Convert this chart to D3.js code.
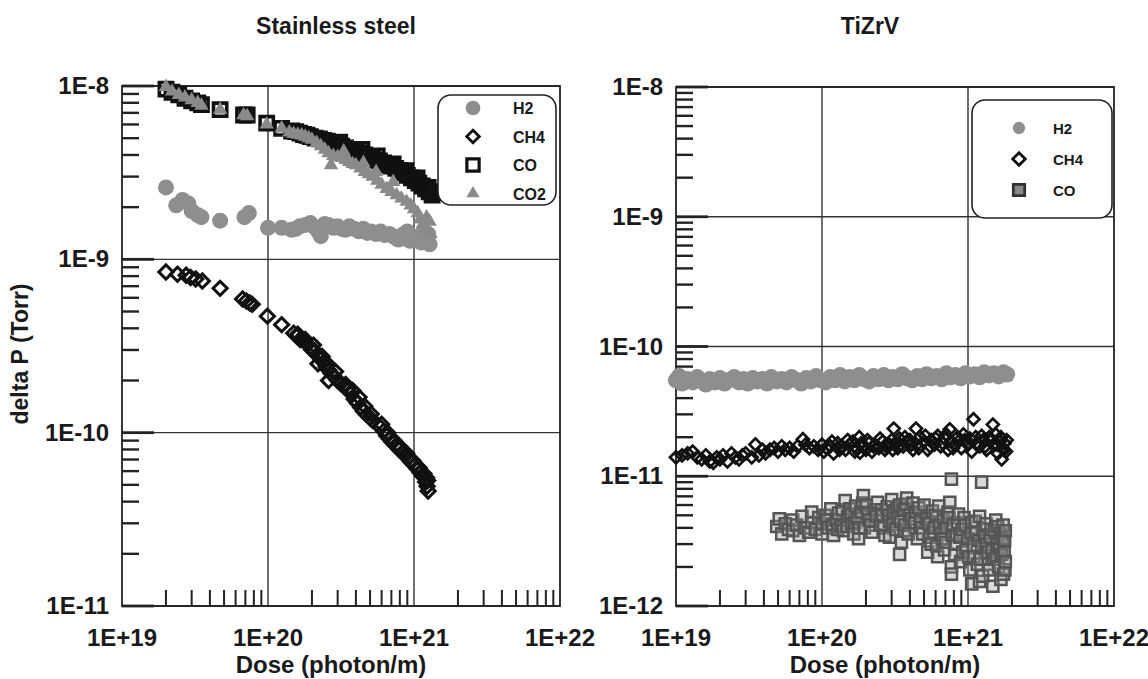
<!DOCTYPE html>
<html>
<head>
<meta charset="utf-8">
<script src="https://cdn.jsdelivr.net/npm/d3@7"></script>
<style>
  body { margin: 0; background: #fff; }
  text { font-family: "Liberation Sans", Arial, sans-serif; font-weight: bold; fill: #1a1a1a; }
</style>
</head>
<body>
<svg id="chart" width="1148" height="679"></svg>
<script>
// ---- data: [dose (photon/m), delta P (Torr)] ----

// Stainless steel
const ssH2 = [
  [2.0e19,2.6e-9],[2.35e19,2.05e-9],[2.6e19,2.2e-9],[2.85e19,2.1e-9],[3.0e19,1.9e-9],[3.3e19,1.8e-9],
  [3.5e19,1.75e-9],[4.7e19,1.67e-9],[6.9e19,1.75e-9],[7.4e19,1.85e-9],[1.0e20,1.52e-9],[1.24e20,1.52e-9],
  [1.45e20,1.48e-9],[1.55e20,1.5e-9],[1.65e20,1.55e-9],[1.8e20,1.58e-9],[1.95e20,1.62e-9],[2.05e20,1.55e-9],
  [2.2e20,1.45e-9],[2.3e20,1.36e-9],[2.45e20,1.6e-9],[2.6e20,1.58e-9],[2.8e20,1.52e-9],[3.0e20,1.55e-9],
  [3.2e20,1.5e-9],[3.4e20,1.48e-9],[3.6e20,1.55e-9],[3.9e20,1.5e-9],[4.2e20,1.45e-9],[4.5e20,1.5e-9],
  [4.8e20,1.42e-9],[5.1e20,1.45e-9],[5.5e20,1.4e-9],[5.9e20,1.45e-9],[6.3e20,1.38e-9],[6.8e20,1.4e-9],
  [7.3e20,1.35e-9],[7.8e20,1.3e-9],[8.3e20,1.38e-9],[8.8e20,1.32e-9],[9.4e20,1.28e-9],[1.0e21,1.35e-9],
  [1.06e21,1.3e-9],[1.12e21,1.25e-9],[1.18e21,1.3e-9],[1.24e21,1.28e-9],[1.28e21,1.22e-9],
  [1.15e21,1.42e-9],[1.25e21,1.4e-9],[9.0e20,1.45e-9]
];
const ssCH4 = [
  [2.0e19,8.45e-10],[2.4e19,8.2e-10],[2.75e19,8.1e-10],[2.95e19,7.85e-10],[3.2e19,7.7e-10],[3.55e19,7.5e-10],
  [4.7e19,6.8e-10],[6.7e19,5.9e-10],[7.1e19,5.75e-10],[7.5e19,5.6e-10],[7.8e19,5.5e-10],[9.9e19,4.7e-10],
  [1.24e20,4.2e-10],[1.5e20,3.75e-10],[1.58e20,3.6e-10],[1.6e20,3.7e-10],[1.66e20,3.45e-10],[1.75e20,3.4e-10],
  [1.8e20,3.45e-10],[1.85e20,3.25e-10],[1.95e20,3.1e-10],[2.0e20,3.0e-10],[2.05e20,3.2e-10],[2.1e20,2.95e-10],
  [2.2e20,2.8e-10],[2.2e20,2.5e-10],[2.3e20,2.65e-10],[2.35e20,2.75e-10],[2.4e20,2.55e-10],[2.5e20,2.4e-10],
  [2.55e20,2.5e-10],[2.6e20,2.3e-10],[2.7e20,2.2e-10],[2.6e20,2.0e-10],[2.85e20,2.1e-10],[2.9e20,2.25e-10],
  [3.0e20,2.0e-10],[3.15e20,1.92e-10],[3.3e20,1.86e-10],[3.4e20,1.9e-10],[3.5e20,1.8e-10],[3.7e20,1.68e-10],
  [3.8e20,1.75e-10],[3.9e20,1.56e-10],[4.1e20,1.48e-10],[4.2e20,1.6e-10],[4.3e20,1.4e-10],[4.5e20,1.33e-10],
  [4.6e20,1.42e-10],[4.75e20,1.27e-10],[5.0e20,1.22e-10],[5.1e20,1.28e-10],[5.2e20,1.18e-10],[5.9e20,1.07e-10],
  [6.0e20,1.12e-10],[6.2e20,1.02e-10],[6.5e20,9.6e-11],[6.6e20,1.0e-10],[6.8e20,9.2e-11],[7.1e20,8.8e-11],
  [7.3e20,9.0e-11],[7.5e20,8.4e-11],[7.9e20,8.0e-11],[8.0e20,8.3e-11],[8.3e20,7.7e-11],[8.7e20,7.4e-11],
  [8.9e20,7.6e-11],[9.1e20,7.1e-11],[9.5e20,6.8e-11],[9.8e20,6.9e-11],[1.0e21,6.5e-11],[1.05e21,6.2e-11],
  [1.08e21,6.3e-11],[1.1e21,5.9e-11],[1.15e21,5.6e-11],[1.17e21,5.8e-11],[1.2e21,5.2e-11],[1.22e21,5.5e-11],
  [1.23e21,4.9e-11],[1.24e21,5.3e-11],[1.25e21,4.6e-11]
];
const ssCO = [
  [2.0e19,9.6e-9],[2.2e19,9.2e-9],[2.45e19,8.9e-9],[2.7e19,8.5e-9],[3.0e19,8.2e-9],[3.3e19,8.0e-9],
  [3.5e19,7.8e-9],[4.7e19,7.3e-9],[6.8e19,6.8e-9],[7.2e19,6.8e-9],[9.8e19,6.1e-9],[1.24e20,5.7e-9],
  [1.45e20,5.5e-9],[1.55e20,5.45e-9],[1.65e20,5.35e-9],[1.75e20,5.25e-9],[1.85e20,5.2e-9],[1.95e20,5.1e-9],
  [2.1e20,5.0e-9],[2.25e20,4.95e-9],[2.4e20,4.85e-9],[2.55e20,4.8e-9],[2.7e20,4.7e-9],[2.85e20,4.65e-9],
  [3.0e20,4.6e-9],[3.1e20,4.75e-9],[3.2e20,4.5e-9],[3.4e20,4.4e-9],[3.6e20,4.3e-9],[3.8e20,4.25e-9],
  [4.0e20,4.2e-9],[4.3e20,4.1e-9],[4.4e20,4.3e-9],[4.6e20,4.0e-9],[4.9e20,3.9e-9],[5.2e20,3.85e-9],
  [5.5e20,3.75e-9],[5.6e20,3.95e-9],[5.8e20,3.7e-9],[6.2e20,3.6e-9],[6.6e20,3.5e-9],[7.0e20,3.45e-9],
  [7.2e20,3.55e-9],[7.5e20,3.35e-9],[8.0e20,3.25e-9],[8.5e20,3.15e-9],[8.8e20,3.25e-9],[9.0e20,3.05e-9],
  [9.6e20,2.95e-9],[1.02e21,2.85e-9],[1.05e21,2.95e-9],[1.08e21,2.75e-9],[1.14e21,2.65e-9],[1.2e21,2.55e-9],
  [1.25e21,2.6e-9],[1.27e21,2.45e-9],[1.33e21,2.35e-9],[1.35e21,2.45e-9]
];
const ssCO2 = [
  [2.0e19,9.9e-9],[2.2e19,9.3e-9],[2.45e19,8.9e-9],[2.7e19,8.6e-9],[3.0e19,8.3e-9],[3.3e19,8.0e-9],
  [3.5e19,7.7e-9],[4.7e19,7.3e-9],[6.8e19,6.8e-9],[7.2e19,6.7e-9],[9.8e19,6.0e-9],[1.24e20,5.7e-9],
  [1.4e20,5.4e-9],[1.5e20,5.3e-9],[1.6e20,5.25e-9],[1.7e20,5.2e-9],[1.8e20,5.1e-9],[1.9e20,5.0e-9],
  [2.0e20,4.9e-9],[2.15e20,4.7e-9],[2.3e20,4.5e-9],[2.45e20,4.3e-9],[2.6e20,4.1e-9],[2.7e20,3.5e-9],
  [2.8e20,3.95e-9],[3.0e20,3.9e-9],[3.2e20,3.85e-9],[3.3e20,4.2e-9],[3.4e20,3.75e-9],[3.6e20,3.65e-9],
  [3.8e20,3.55e-9],[4.0e20,3.5e-9],[4.3e20,3.35e-9],[4.5e20,3.6e-9],[4.6e20,3.2e-9],[4.9e20,3.1e-9],
  [5.2e20,3.0e-9],[5.5e20,3.2e-9],[5.6e20,2.85e-9],[6.0e20,2.7e-9],[6.5e20,2.55e-9],[7.0e20,2.45e-9],
  [7.2e20,2.8e-9],[7.6e20,2.35e-9],[8.2e20,2.25e-9],[8.9e20,2.15e-9],[9.5e20,2.05e-9],[1.0e21,1.95e-9],
  [1.06e21,1.85e-9],[1.1e21,1.7e-9],[1.15e21,1.6e-9],[1.2e21,1.5e-9],[1.22e21,1.75e-9],[1.25e21,1.45e-9],
  [1.28e21,1.65e-9],[1.3e21,1.4e-9]
];

// TiZrV
const tzH2 = [
  [1.0e19,5.5e-11],[1.05e19,5.9e-11],[1.1e19,5.2e-11],[1.2e19,5.6e-11],[1.3e19,5.3e-11],[1.4e19,5.8e-11],
  [1.5e19,5.4e-11],[1.6e19,5.1e-11],[1.7e19,5.6e-11],[1.85e19,5.3e-11],[2.0e19,5.7e-11],[2.15e19,5.2e-11],
  [2.3e19,5.5e-11],[2.5e19,5.8e-11],[2.7e19,5.3e-11],[2.9e19,5.6e-11],[3.1e19,5.2e-11],[3.35e19,5.7e-11],
  [3.6e19,5.4e-11],[3.9e19,5.6e-11],[4.2e19,5.2e-11],[4.5e19,5.8e-11],[4.9e19,5.4e-11],[5.3e19,5.6e-11],
  [5.7e19,5.3e-11],[6.2e19,5.8e-11],[6.7e19,5.5e-11],[7.2e19,5.2e-11],[7.8e19,5.7e-11],[8.4e19,5.4e-11],
  [9.1e19,5.9e-11],[9.8e19,5.5e-11],[1.06e20,5.3e-11],[1.14e20,5.8e-11],[1.23e20,5.5e-11],[1.33e20,6.0e-11],
  [1.43e20,5.4e-11],[1.55e20,5.8e-11],[1.67e20,5.5e-11],[1.8e20,6.0e-11],[1.95e20,5.6e-11],[2.1e20,5.4e-11],
  [2.25e20,5.9e-11],[2.45e20,5.6e-11],[2.65e20,6.0e-11],[2.85e20,5.5e-11],[3.05e20,5.8e-11],[3.3e20,5.6e-11],
  [3.55e20,6.1e-11],[3.85e20,5.7e-11],[4.15e20,5.5e-11],[4.5e20,5.9e-11],[4.85e20,5.6e-11],[5.2e20,6.1e-11],
  [5.6e20,5.7e-11],[6.1e20,5.9e-11],[6.6e20,5.6e-11],[7.1e20,6.2e-11],[7.6e20,5.8e-11],[8.2e20,6.0e-11],
  [8.9e20,5.7e-11],[9.6e20,6.2e-11],[1.03e21,5.9e-11],[1.11e21,6.1e-11],[1.2e21,5.8e-11],[1.29e21,6.3e-11],
  [1.39e21,6.0e-11],[1.5e21,6.2e-11],[1.62e21,5.9e-11],[1.75e21,6.3e-11],[1.85e21,6.1e-11]
];
const tzCH4 = [
  [1.0e19,1.4e-11],[1.1e19,1.45e-11],[1.2e19,1.5e-11],[1.3e19,1.55e-11],[1.4e19,1.4e-11],[1.5e19,1.35e-11],
  [1.6e19,1.45e-11],[1.7e19,1.3e-11],[1.8e19,1.27e-11],[1.9e19,1.4e-11],[2.0e19,1.35e-11],[2.1e19,1.45e-11],
  [2.25e19,1.3e-11],[2.4e19,1.5e-11],[2.55e19,1.4e-11],[2.7e19,1.35e-11],[2.85e19,1.45e-11],[3.0e19,1.5e-11],
  [3.3e19,1.4e-11],[3.5e19,1.76e-11],[3.7e19,1.45e-11],[3.9e19,1.6e-11],[4.1e19,1.5e-11],[4.4e19,1.6e-11],
  [4.7e19,1.65e-11],[5.0e19,1.55e-11],[5.3e19,1.7e-11],[5.6e19,1.6e-11],[6.0e19,1.65e-11],[6.4e19,1.55e-11],
  [6.8e19,1.7e-11],[7.4e19,1.93e-11],[7.7e19,1.75e-11],[8.2e19,1.65e-11],[8.8e19,1.7e-11],[9.4e19,1.6e-11],
  [1.0e20,1.75e-11],[1.03e20,1.55e-11],[1.07e20,1.65e-11],[1.14e20,1.7e-11],[1.17e20,1.85e-11],[1.2e20,1.5e-11],
  [1.28e20,1.8e-11],[1.32e20,1.6e-11],[1.36e20,1.7e-11],[1.45e20,1.6e-11],[1.5e20,1.9e-11],[1.54e20,1.75e-11],
  [1.63e20,1.85e-11],[1.68e20,1.55e-11],[1.72e20,1.65e-11],[1.8e20,2.0e-11],[1.82e20,1.52e-11],[1.86e20,1.8e-11],
  [1.9e20,1.7e-11],[2.0e20,1.6e-11],[2.05e20,1.9e-11],[2.1e20,1.8e-11],[2.2e20,1.55e-11],[2.25e20,1.7e-11],
  [2.3e20,1.75e-11],[2.45e20,1.65e-11],[2.5e20,1.95e-11],[2.6e20,1.85e-11],[2.7e20,1.6e-11],[2.75e20,1.7e-11],
  [2.9e20,1.75e-11],[3.0e20,1.9e-11],[3.1e20,2.33e-11],[3.05e20,1.6e-11],[3.2e20,1.8e-11],[3.3e20,1.65e-11],
  [3.4e20,1.95e-11],[3.6e20,1.7e-11],[3.7e20,2.0e-11],[3.8e20,1.85e-11],[4.0e20,1.9e-11],[4.1e20,1.75e-11],
  [4.2e20,1.6e-11],[4.4e20,2.33e-11],[4.45e20,1.75e-11],[4.6e20,1.65e-11],[4.7e20,2.0e-11],[5.0e20,1.85e-11],
  [5.1e20,2.05e-11],[5.3e20,1.6e-11],[5.5e20,1.7e-11],[5.6e20,1.9e-11],[5.9e20,1.75e-11],[6.0e20,1.95e-11],
  [6.2e20,2.05e-11],[6.5e20,1.7e-11],[6.7e20,1.8e-11],[6.9e20,1.95e-11],[7.1e20,2.1e-11],[7.3e20,1.6e-11],
  [7.5e20,2.3e-11],[7.7e20,1.85e-11],[7.9e20,1.65e-11],[8.1e20,1.75e-11],[8.5e20,2.0e-11],[8.8e20,1.9e-11],
  [9.0e20,1.65e-11],[9.3e20,2.1e-11],[9.5e20,1.9e-11],[1.0e21,1.75e-11],[1.03e21,1.95e-11],[1.06e21,1.55e-11],
  [1.09e21,2.75e-11],[1.13e21,2.0e-11],[1.16e21,1.8e-11],[1.2e21,1.7e-11],[1.24e21,2.05e-11],[1.27e21,1.9e-11],
  [1.31e21,1.7e-11],[1.34e21,1.6e-11],[1.4e21,2.0e-11],[1.45e21,1.9e-11],[1.48e21,2.5e-11],[1.5e21,1.75e-11],
  [1.55e21,2.1e-11],[1.58e21,1.75e-11],[1.6e21,1.5e-11],[1.65e21,1.85e-11],[1.68e21,2.0e-11],[1.7e21,1.35e-11],
  [1.72e21,1.65e-11],[1.76e21,1.6e-11],[1.78e21,1.8e-11],[1.82e21,1.55e-11],[1.84e21,1.9e-11]
];
const tzCO = [
  [4.9e19,4.1e-12],[5.1e19,4.7e-12],[5.3e19,3.6e-12],[5.6e19,4.3e-12],[5.9e19,3.9e-12],[6.3e19,3.8e-12],
  [6.3e19,4.6e-12],[6.7e19,4.2e-12],[7.0e19,3.5e-12],[7.3e19,4.9e-12],[7.7e19,4.0e-12],[8.1e19,3.7e-12],
  [8.5e19,5.3e-12],[8.5e19,4.4e-12],[9.0e19,3.9e-12],[9.5e19,4.8e-12],[1.0e20,3.6e-12],[1.0e20,4.3e-12],
  [1.05e20,5.0e-12],[1.08e20,4.6e-12],[1.1e20,4.0e-12],[1.15e20,5.6e-12],[1.18e20,4.2e-12],[1.2e20,3.5e-12],
  [1.25e20,4.6e-12],[1.28e20,3.9e-12],[1.3e20,5.2e-12],[1.35e20,4.1e-12],[1.38e20,5.5e-12],[1.4e20,3.8e-12],
  [1.44e20,6.5e-12],[1.48e20,4.1e-12],[1.5e20,4.9e-12],[1.55e20,5.6e-12],[1.58e20,5.1e-12],[1.6e20,4.3e-12],
  [1.65e20,3.6e-12],[1.68e20,4.4e-12],[1.7e20,5.9e-12],[1.75e20,4.7e-12],[1.78e20,3.3e-12],[1.8e20,4.0e-12],
  [1.85e20,5.3e-12],[1.9e20,6.2e-12],[1.92e20,7.1e-12],[1.95e20,4.0e-12],[2.0e20,6.0e-12],[2.05e20,5.2e-12],
  [2.1e20,4.6e-12],[2.15e20,4.2e-12],[2.2e20,3.7e-12],[2.3e20,5.5e-12],[2.35e20,4.9e-12],[2.4e20,6.3e-12],
  [2.5e20,4.2e-12],[2.55e20,5.5e-12],[2.6e20,5.0e-12],[2.65e20,4.0e-12],[2.7e20,3.5e-12],[2.8e20,5.8e-12],
  [2.85e20,5.0e-12],[2.9e20,3.4e-12],[2.9e20,4.5e-12],[3.0e20,6.6e-12],[3.05e20,4.3e-12],[3.1e20,5.2e-12],
  [3.2e20,3.9e-12],[3.25e20,5.7e-12],[3.3e20,4.8e-12],[3.4e20,2.5e-12],[3.4e20,6.0e-12],[3.45e20,4.5e-12],
  [3.5e20,3.1e-12],[3.6e20,5.5e-12],[3.65e20,3.8e-12],[3.7e20,4.2e-12],[3.75e20,6.1e-12],[3.8e20,6.8e-12],
  [3.9e20,3.6e-12],[4.0e20,5.0e-12],[4.1e20,4.7e-12],[4.2e20,6.2e-12],[4.3e20,4.4e-12],[4.4e20,5.3e-12],
  [4.5e20,3.3e-12],[4.6e20,5.7e-12],[4.7e20,4.5e-12],[4.8e20,4.0e-12],[4.9e20,3.6e-12],[5.0e20,6.0e-12],
  [5.2e20,4.7e-12],[5.3e20,2.6e-12],[5.4e20,4.3e-12],[5.5e20,3.4e-12],[5.6e20,3.0e-12],[5.7e20,5.4e-12],
  [5.8e20,3.7e-12],[5.9e20,4.0e-12],[6.0e20,5.0e-12],[6.1e20,2.9e-12],[6.2e20,2.4e-12],[6.3e20,5.9e-12],
  [6.4e20,4.2e-12],[6.5e20,3.6e-12],[6.7e20,3.3e-12],[6.8e20,4.6e-12],[6.9e20,2.7e-12],[7.0e20,3.1e-12],
  [7.1e20,4.0e-12],[7.3e20,5.3e-12],[7.4e20,4.8e-12],[7.5e20,6.3e-12],[7.7e20,9.5e-12],[7.7e20,2.0e-12],
  [7.7e20,1.76e-12],[7.8e20,3.5e-12],[7.9e20,4.2e-12],[8.1e20,2.5e-12],[8.2e20,3.0e-12],[8.3e20,3.5e-12],
  [8.5e20,4.4e-12],[8.6e20,5.1e-12],[8.8e20,3.4e-12],[8.9e20,2.2e-12],[9.1e20,3.9e-12],[9.2e20,2.6e-12],
  [9.4e20,4.8e-12],[9.6e20,4.2e-12],[9.7e20,2.8e-12],[1.0e21,3.3e-12],[1.01e21,2.4e-12],[1.03e21,1.9e-12],
  [1.05e21,3.7e-12],[1.06e21,1.48e-12],[1.06e21,4.4e-12],[1.09e21,2.9e-12],[1.1e21,2.4e-12],[1.12e21,4.5e-12],
  [1.13e21,3.7e-12],[1.16e21,2.1e-12],[1.18e21,3.2e-12],[1.2e21,4.9e-12],[1.2e21,1.55e-12],[1.22e21,2.3e-12],
  [1.24e21,9.0e-12],[1.24e21,2.9e-12],[1.26e21,1.7e-12],[1.28e21,3.9e-12],[1.3e21,3.4e-12],[1.33e21,4.3e-12],
  [1.34e21,3.0e-12],[1.37e21,2.6e-12],[1.38e21,2.1e-12],[1.4e21,1.9e-12],[1.42e21,3.4e-12],[1.44e21,3.9e-12],
  [1.46e21,2.7e-12],[1.48e21,1.42e-12],[1.5e21,2.3e-12],[1.52e21,3.8e-12],[1.55e21,4.6e-12],[1.56e21,2.4e-12],
  [1.58e21,3.0e-12],[1.6e21,4.1e-12],[1.62e21,2.0e-12],[1.64e21,2.8e-12],[1.66e21,3.6e-12],[1.68e21,1.6e-12],
  [1.7e21,2.5e-12],[1.72e21,3.3e-12],[1.74e21,4.2e-12],[1.75e21,1.76e-12],[1.77e21,2.6e-12],[1.78e21,3.2e-12],
  [1.79e21,1.9e-12],[1.8e21,2.2e-12],[1.8e21,3.8e-12]
];

// axis ticks and labels
const xTickValues = [1e19, 1e20, 1e21, 1e22];
const xTickLabels = ["1E+19", "1E+20", "1E+21", "1E+22"];
const ssYTickValues = [1e-8, 1e-9, 1e-10, 1e-11];
const ssYTickLabels = ["1E-8", "1E-9", "1E-10", "1E-11"];
const tzYTickValues = [1e-8, 1e-9, 1e-10, 1e-11, 1e-12];
const tzYTickLabels = ["1E-8", "1E-9", "1E-10", "1E-11", "1E-12"];

const svg = d3.select("#chart");

function symbolPath(type, size) {
  const t = type === "circle" ? d3.symbolCircle
          : type === "triangle" ? d3.symbolTriangle
          : d3.symbolSquare;
  return d3.symbol().type(t).size(size)();
}

function drawMarkers(g, data, x, y, s) {
  g.append("g").selectAll("path")
    .data(data)
    .enter()
    .append("path")
    .attr("d", symbolPath(s.type, s.size))
    .attr("transform", d => `translate(${x(d[0])},${y(d[1])})` + (s.type === "diamond" ? " rotate(45)" : ""))
    .attr("fill", s.fill)
    .attr("stroke", s.stroke)
    .attr("stroke-width", s.sw);
}

function drawPanel(p) {
  const x = d3.scaleLog().domain([1e19, 1e22]).range([p.left, p.right]);
  const y = d3.scaleLog().domain(p.yDomain).range([p.bottom, p.top]);
  const g = svg.append("g");

  // minor ticks (inside the frame)
  const minorX = x.ticks().filter(v => !xTickValues.includes(v));
  g.selectAll(".mx").data(minorX).enter().append("line")
    .attr("x1", d => x(d)).attr("x2", d => x(d))
    .attr("y1", p.bottom).attr("y2", p.bottom - 16)
    .attr("stroke", "#222").attr("stroke-width", 2);
  const minorY = y.ticks().filter(v => !p.yTicks.some(t => Math.abs(t - v) / t < 1e-6));
  g.selectAll(".my").data(minorY).enter().append("line")
    .attr("x1", p.left).attr("x2", p.left + 17)
    .attr("y1", d => y(d)).attr("y2", d => y(d))
    .attr("stroke", "#222").attr("stroke-width", 2.4);

  // decade grid lines
  g.selectAll(".gx").data(xTickValues.slice(1, -1)).enter().append("line")
    .attr("x1", d => x(d)).attr("x2", d => x(d))
    .attr("y1", p.top).attr("y2", p.bottom)
    .attr("stroke", "#333").attr("stroke-width", 1.4);
  g.selectAll(".gy").data(p.yTicks).enter().append("line")
    .attr("x1", p.left).attr("x2", p.right)
    .attr("y1", d => y(d)).attr("y2", d => y(d))
    .attr("stroke", "#333").attr("stroke-width", 1.4);
  g.selectAll(".my2").data(p.yTicks).enter().append("line")
    .attr("x1", p.left).attr("x2", p.left + 32)
    .attr("y1", d => y(d)).attr("y2", d => y(d))
    .attr("stroke", "#222").attr("stroke-width", 2.8);

  // frame
  g.append("rect")
    .attr("x", p.left).attr("y", p.top)
    .attr("width", p.right - p.left).attr("height", p.bottom - p.top)
    .attr("fill", "none").attr("stroke", "#222").attr("stroke-width", 1.8);

  // tick labels
  g.selectAll(".lx").data(xTickValues).enter().append("text")
    .attr("x", d => x(d)).attr("y", p.bottom + 40)
    .attr("text-anchor", "middle").style("font-size", "24px")
    .text((d, i) => xTickLabels[i]);
  g.selectAll(".ly").data(p.yTicks).enter().append("text")
    .attr("x", p.left - 13).attr("y", d => y(d) + 8)
    .attr("text-anchor", "end").style("font-size", "24px")
    .text((d, i) => p.yLabels[i]);

  // axis titles and panel title
  g.append("text")
    .attr("x", (p.left + p.right) / 2 - 10).attr("y", p.bottom + 67)
    .attr("text-anchor", "middle").style("font-size", "24px")
    .text("Dose (photon/m)");
  g.append("text")
    .attr("x", p.titleX).attr("y", 34)
    .attr("text-anchor", "middle").style("font-size", "23px")
    .text(p.title);
  if (p.yTitle) {
    g.append("text")
      .attr("transform", `translate(28,354) rotate(-90)`)
      .attr("text-anchor", "middle").style("font-size", "23px")
      .text(p.yTitle);
  }

  // data
  const plot = g.append("g");
  p.series.forEach(s => drawMarkers(plot, s.data, x, y, s));

  // legend
  const L = p.legend;
  const lg = g.append("g");
  lg.append("rect")
    .attr("x", L.x).attr("y", L.y).attr("width", L.w).attr("height", L.h)
    .attr("rx", 13).attr("ry", 13)
    .attr("fill", "#fff").attr("stroke", "#222").attr("stroke-width", 1.6);
  p.series.forEach((s, i) => {
    const cy = L.y + L.first + i * L.step;
    lg.append("path")
      .attr("d", symbolPath(s.type, L.symSize[i]))
      .attr("transform", `translate(${L.symX},${cy})` + (s.type === "diamond" ? " rotate(45)" : ""))
      .attr("fill", s.legendFill || s.fill).attr("stroke", s.legendStroke || s.stroke)
      .attr("stroke-width", s.legendSw || s.sw);
    lg.append("text")
      .attr("x", L.textX).attr("y", cy + 6)
      .style("font-size", L.font)
      .text(s.name);
  });
}

drawPanel({
  left: 122, right: 560, top: 86, bottom: 606,
  yDomain: [1e-11, 1e-8], yTicks: ssYTickValues, yLabels: ssYTickLabels,
  title: "Stainless steel", titleX: 336, yTitle: "delta P (Torr)",
  series: [
    { name: "H2",  data: ssH2,  type: "circle",   size: 200, fill: "#8e8e8e", stroke: "none", sw: 0 },
    { name: "CH4", data: ssCH4, type: "diamond",  size: 100, fill: "none", stroke: "#111", sw: 3, legendFill: "#fff", legendSw: 2.8 },
    { name: "CO",  data: ssCO,  type: "square",   size: 175, fill: "none", stroke: "#111", sw: 3.6, legendFill: "#fff", legendSw: 3.2 },
    { name: "CO2", data: ssCO2, type: "triangle", size: 90,  fill: "#8a8a8a", stroke: "none", sw: 0 }
  ],
  legend: { x: 438, y: 95, w: 118, h: 110, first: 13, step: 28.5, symX: 473, textX: 513,
            symSize: [170, 80, 150, 75], font: "16px" }
});

drawPanel({
  left: 676, right: 1114, top: 87, bottom: 606,
  yDomain: [1e-12, 1e-8], yTicks: tzYTickValues, yLabels: tzYTickLabels,
  title: "TiZrV", titleX: 870,
  series: [
    { name: "H2",  data: tzH2,  type: "circle",  size: 210, fill: "#8e8e8e", stroke: "none", sw: 0 },
    { name: "CH4", data: tzCH4, type: "diamond", size: 72, fill: "none", stroke: "#111", sw: 2.7, legendFill: "#fff", legendSw: 2.8 },
    { name: "CO",  data: tzCO,  type: "square",  size: 125, fill: "rgba(150,150,150,0.35)", stroke: "#555", sw: 2.5,
      legendFill: "#888", legendStroke: "#333", legendSw: 2.8 }
  ],
  legend: { x: 972, y: 100, w: 140, h: 118, first: 28, step: 31, symX: 1019, textX: 1053,
            symSize: [120, 80, 130], font: "15px" }
});
</script>
</body>
</html>
